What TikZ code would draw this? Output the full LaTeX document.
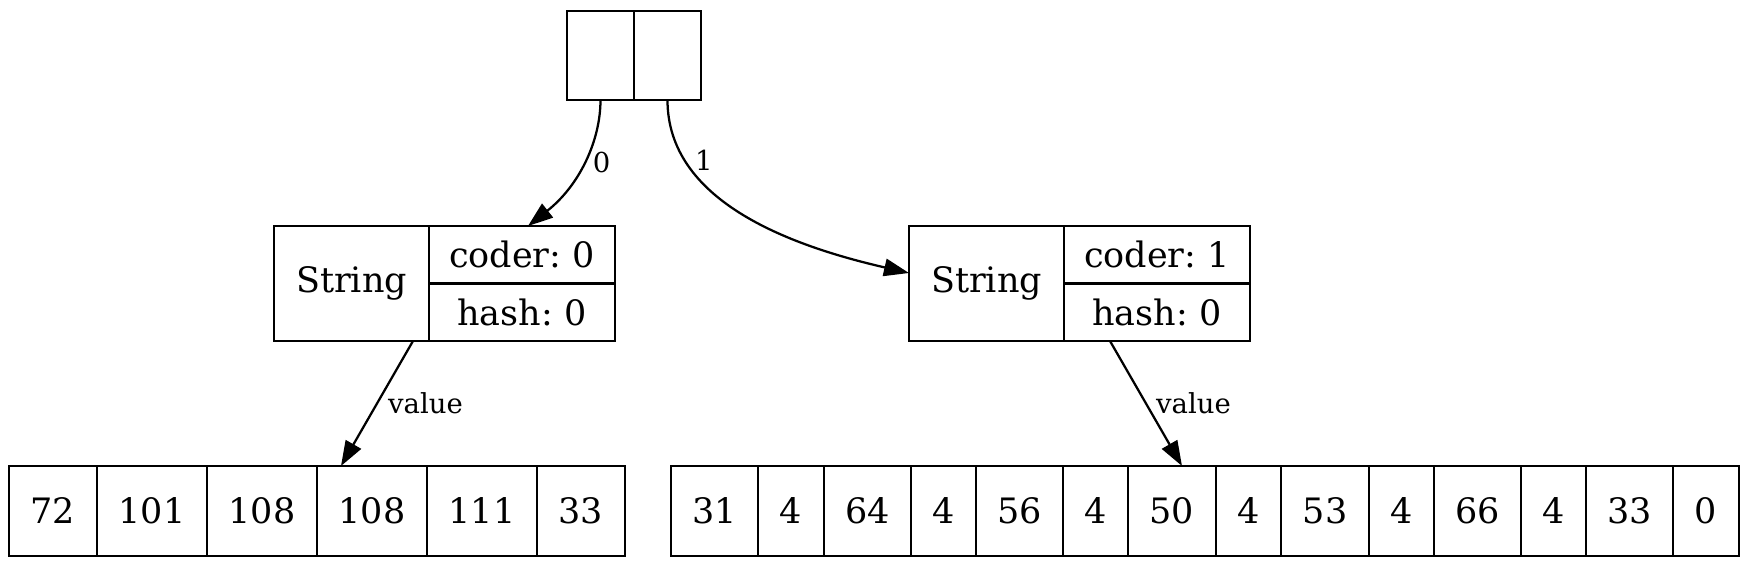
\documentclass[tikz,border=0pt]{standalone}
\usepackage{fontspec}
\setmainfont{DejaVu Serif}
\usetikzlibrary{arrows.meta}
\frenchspacing
\begin{document}
\begin{tikzpicture}[x=0.4pt,y=-0.4pt,
  cell/.style={draw, line width=0.9pt, inner sep=0pt, outer sep=0pt,
    font=\fontsize{14}{16}\selectfont, minimum height=36pt},
  link/.style={line width=0.9pt, -{Triangle[length=10pt,width=7pt]}},
  lbl/.style={font=\fontsize{11}{13}\selectfont, inner sep=0pt, anchor=west}]
\useasboundingbox (0,0) rectangle (1749,568);

% top two-cell array
\node[cell, minimum width=26.8pt, minimum height=35.6pt] (t0) at (600.5,55.5) {};
\node[cell, minimum width=26.8pt, minimum height=35.6pt] (t1) at (667.5,55.5) {};

% left String record
\node[cell, minimum width=62pt, minimum height=46pt] (s0) at (351.5,283.5) {String};
\node[cell, minimum width=74.4pt, minimum height=23pt] (s0c) at (522,254.75) {coder: 0};
\node[cell, minimum width=74.4pt, minimum height=23pt] (s0h) at (522,312.25) {hash: 0};

% right String record
\node[cell, minimum width=62pt, minimum height=46pt] (r0) at (986.5,283.5) {String};
\node[cell, minimum width=74.4pt, minimum height=23pt] (r0c) at (1157,254.75) {coder: 1};
\node[cell, minimum width=74.4pt, minimum height=23pt] (r0h) at (1157,312.25) {hash: 0};

% left byte array
\node[cell, minimum width=35.2pt] (a0) at (53,511) {72};
\node[cell, minimum width=44pt] (a1) at (152,511) {101};
\node[cell, minimum width=44pt] (a2) at (262,511) {108};
\node[cell, minimum width=44pt] (a3) at (372,511) {108};
\node[cell, minimum width=44pt] (a4) at (482,511) {111};
\node[cell, minimum width=35.2pt] (a5) at (581,511) {33};

% right byte array
\node[cell, minimum width=34.8pt] (b0) at (714.5,511) {31};
\node[cell, minimum width=26.4pt] (b1) at (791,511) {4};
\node[cell, minimum width=34.8pt] (b2) at (867.5,511) {64};
\node[cell, minimum width=26pt] (b3) at (943.5,511) {4};
\node[cell, minimum width=34.8pt] (b4) at (1019.5,511) {56};
\node[cell, minimum width=26pt] (b5) at (1095.5,511) {4};
\node[cell, minimum width=35.2pt] (b6) at (1172,511) {50};
\node[cell, minimum width=26pt] (b7) at (1248.5,511) {4};
\node[cell, minimum width=35.2pt] (b8) at (1325,511) {53};
\node[cell, minimum width=26pt] (b9) at (1401.5,511) {4};
\node[cell, minimum width=34.8pt] (b10) at (1477.5,511) {66};
\node[cell, minimum width=26pt] (b11) at (1553.5,511) {4};
\node[cell, minimum width=34.8pt] (b12) at (1629.5,511) {33};
\node[cell, minimum width=26.4pt] (b13) at (1706,511) {0};

% connectors
\draw[link] (t0.south) .. controls +(0,40) and +(52,-41) .. ([xshift=2.4pt]s0c.north)
  node[lbl, pos=0.5, xshift=3.2pt] {0};
\draw[link] (t1.south) .. controls +(0,100) and +(-122,-28) .. ([yshift=4.2pt]r0.west)
  node[lbl, pos=0.23, xshift=3.6pt] {1};
\draw[link] ([xshift=24.6pt]s0.south) -- ([xshift=-12.4pt]a3.north)
  node[lbl, midway, xshift=4pt] {value};
\draw[link] ([xshift=-18.8pt]r0h.south) -- ([xshift=4pt]b6.north)
  node[lbl, midway, xshift=3.6pt] {value};
\end{tikzpicture}
\end{document}
